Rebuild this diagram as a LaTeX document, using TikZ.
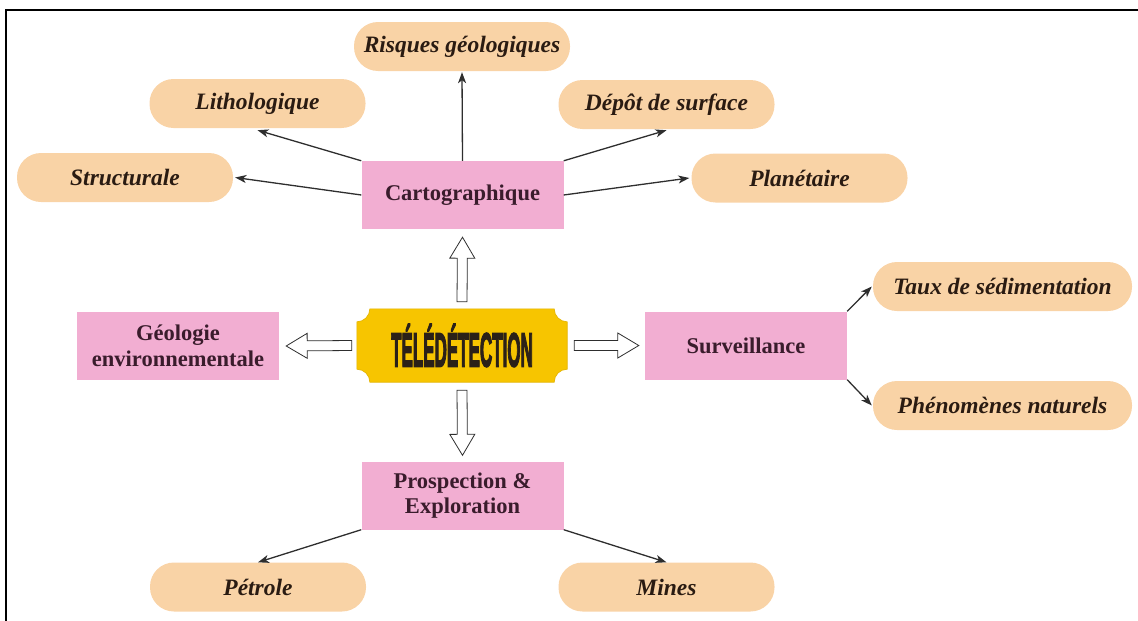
\documentclass[tikz,border=0pt]{standalone}
\usepackage{fontspec}
\usepackage{graphicx}
\setmainfont{Liberation Serif}
\newfontfamily\telefont{Liberation Sans}[BoldFeatures={FakeBold=4}]
\usetikzlibrary{arrows.meta,calc,backgrounds}
\definecolor{peach}{HTML}{F9D3A6}
\definecolor{rose}{HTML}{F2AED2}
\definecolor{gold}{HTML}{F7C500}
\definecolor{goldedge}{HTML}{E3B300}
\definecolor{pinktext}{HTML}{3A1C2C}
\definecolor{pilltext}{HTML}{2A1B12}
\definecolor{linec}{HTML}{2E2E2E}
\definecolor{teletext}{HTML}{2B2118}
\begin{document}
\begin{tikzpicture}[x=1pt,y=1pt,
  pill/.style={fill=peach, rounded corners=24pt, minimum width=216pt, minimum height=49pt,
    inner sep=0pt, font=\fontsize{23.5}{27}\selectfont\bfseries\itshape, text=pilltext},
  box/.style={fill=rose, minimum width=202pt, minimum height=68pt, inner sep=0pt,
    align=center, font=\fontsize{22.5}{25.5}\selectfont\bfseries, text=pinktext},
  link/.style={draw=linec, line width=1.3pt, -{Stealth[length=11pt,width=8pt,inset=3pt]}},
  hollow/.style={draw=linec, line width=0.8pt, fill=white,
    to path={($(\tikztostart)!5pt!90:(\tikztotarget)$)
      -- ($(\tikztotarget)!21.59pt!-13.39:(\tikztostart)$)
      -- ($(\tikztotarget)!24.44pt!-30.76:(\tikztostart)$)
      -- (\tikztotarget)
      -- ($(\tikztotarget)!24.44pt!30.76:(\tikztostart)$)
      -- ($(\tikztotarget)!21.59pt!13.39:(\tikztostart)$)
      -- ($(\tikztostart)!5pt!-90:(\tikztotarget)$) -- cycle}}
]
\useasboundingbox (0,0) rectangle (1138,-621);
\draw[line width=2pt, black] (6,-621) -- (6,-10) -- (1138,-10);

% central plaque
\node[minimum width=210pt, minimum height=73pt, inner sep=0pt, text=teletext] (tele) at (462,-345.5)
  {\telefont\bfseries\scalebox{0.5}[1.4]{\fontsize{34}{34}\selectfont TÉLÉDÉTECTION}};
\begin{pgfonlayer}{background}
\path[fill=gold, draw=goldedge, line width=0.6pt]
  ($(tele.north west)+(0,-13)$) arc[start angle=-90, end angle=0, radius=13pt]
  -- ($(tele.north east)+(-13,0)$) arc[start angle=180, end angle=270, radius=13pt]
  -- ($(tele.south east)+(0,13)$) arc[start angle=90, end angle=180, radius=13pt]
  -- ($(tele.south west)+(13,0)$) arc[start angle=0, end angle=90, radius=13pt]
  -- cycle;
\end{pgfonlayer}

% pink boxes
\node[box] (carto) at (462.5,-195) {Cartographique};
\node[box] (geol) at (178,-346) {Géologie\\environnementale};
\node[box] (surv) at (746,-345.5) {Surveillance};
\node[box] (prosp) at (462.5,-495.5) {Prospection \&\\Exploration};

% pills
\node[pill] (risq) at (462,-46.5) {Risques géologiques};
\node[pill] (litho) at (257.5,-103.5) {Lithologique};
\node[pill] (struct) at (125,-177.5) {Structurale};
\node[pill] (depot) at (666.5,-104.5) {Dépôt de surface};
\node[pill] (plan) at (799.5,-178) {Planétaire};
\node[pill, minimum width=259pt] (taux) at (1002.5,-286.5) {Taux de sédimentation};
\node[pill, minimum width=259pt] (phen) at (1002.5,-405.5) {Phénomènes naturels};
\node[pill] (petrole) at (258,-587) {Pétrole};
\node[pill] (mines) at (666.5,-587) {Mines};

% hollow arrows
\draw[hollow] ([yshift=7pt]tele.north) to ([yshift=-8pt]carto.south);
\draw[hollow] ([xshift=-5pt]tele.west) to ([xshift=7pt]geol.east);
\draw[hollow] ([xshift=7pt]tele.east) to ([xshift=-6pt]surv.west);
\draw[hollow] ([yshift=-8pt]tele.south) to ([yshift=6pt]prosp.north);

% thin arrows
\draw[link] (carto.north) -- ([yshift=-1pt]risq.south);
\draw[link] (carto.north west) -- ([yshift=-2pt]litho.south);
\draw[link] (carto.west) -- ([xshift=2pt]struct.east);
\draw[link] (carto.north east) -- ([yshift=-1pt]depot.south);
\draw[link] (carto.east) -- ([xshift=-2pt]plan.west);
\draw[link] (surv.north east) -- ([xshift=-1pt]taux.west);
\draw[link] (surv.south east) -- ([xshift=-1pt]phen.west);
\draw[link] (prosp.south west) -- (petrole.north);
\draw[link] (prosp.south east) -- (mines.north);
\end{tikzpicture}
\end{document}
